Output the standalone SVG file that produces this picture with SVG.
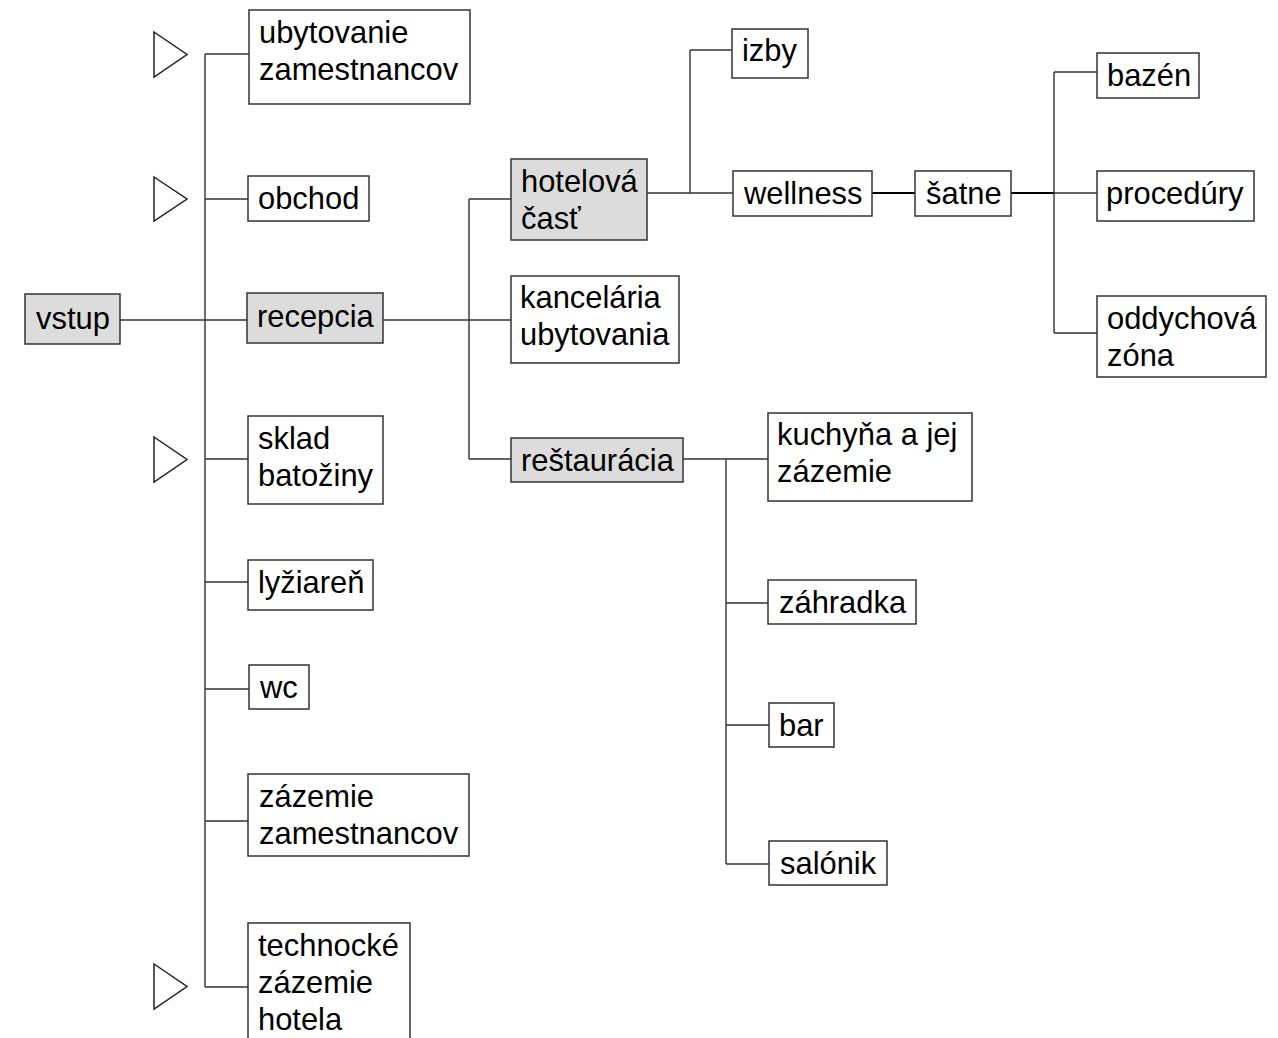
<svg xmlns="http://www.w3.org/2000/svg" width="1278" height="1038" viewBox="0 0 1278 1038">
<style>
.n{fill:#fff;stroke:#333;stroke-width:1.5}
.g{fill:#dcdcdc;stroke:#333;stroke-width:1.5}
.t{font-family:"Liberation Sans",Arial,sans-serif;font-size:30.9px;fill:#000}
.c{fill:none;stroke:#333;stroke-width:1.4}
.b{fill:none;stroke:#000;stroke-width:2.2}
.tri{fill:#fff;stroke:#222;stroke-width:1.5}
</style>
<rect width="1278" height="1038" fill="#fff"/>
<g id="connectors">
<path class="c" d="M120 320H247M205 54V987M205 54H249M205 199H248M205 459H248M205 582H248M205 689H249M205 821H248M205 987H248"/>
<path class="c" d="M383 320H511M469 199V459M469 199H511M469 459H511"/>
<path class="c" d="M647 193H733M690 50V193M690 50H732"/>
<path class="b" d="M872 193H915M1011 193H1055"/>
<path class="c" d="M1054 72V333M1054 72H1097M1054 193H1097M1054 333H1097"/>
<path class="c" d="M683 459H768M726 459V864M726 603H768M726 725H769M726 864H769"/>
</g>
<g id="markers">
<polygon class="tri" points="154,32 187,54.5 154,77"/>
<polygon class="tri" points="154,177 187,199 154,221"/>
<polygon class="tri" points="154,437 187,459.5 154,482"/>
<polygon class="tri" points="154,964 187,986.5 154,1009"/>
</g>
<g id="vstup"><rect class="g" x="25" y="294" width="95" height="50"/><text class="t" x="36" y="329">vstup</text></g>
<g id="ubytovanie"><rect class="n" x="249" y="10" width="221" height="94"/><text class="t" x="259" y="43">ubytovanie</text><text class="t" x="259" y="80">zamestnancov</text></g>
<g id="obchod"><rect class="n" x="248" y="176" width="121" height="45"/><text class="t" x="258" y="209">obchod</text></g>
<g id="recepcia"><rect class="g" x="247" y="293" width="136" height="50"/><text class="t" x="257" y="327">recepcia</text></g>
<g id="sklad"><rect class="n" x="248" y="416" width="135" height="88"/><text class="t" x="258" y="449">sklad</text><text class="t" x="258" y="486">batožiny</text></g>
<g id="lyziaren"><rect class="n" x="248" y="560" width="125" height="50"/><text class="t" x="258" y="593">lyžiareň</text></g>
<g id="wc"><rect class="n" x="249" y="665" width="60" height="44"/><text class="t" x="260" y="698">wc</text></g>
<g id="zazemie-zam"><rect class="n" x="248" y="774" width="221" height="82"/><text class="t" x="259" y="807">zázemie</text><text class="t" x="259" y="844">zamestnancov</text></g>
<g id="technicke"><rect class="n" x="248" y="923" width="162" height="130"/><text class="t" x="258" y="956">technocké</text><text class="t" x="258" y="993">zázemie</text><text class="t" x="258" y="1030">hotela</text></g>
<g id="hotelova"><rect class="g" x="511" y="159" width="136" height="81"/><text class="t" x="521" y="192">hotelová</text><text class="t" x="521" y="229">časť</text></g>
<g id="kancelaria"><rect class="n" x="511" y="276" width="168" height="87"/><text class="t" x="520" y="308">kancelária</text><text class="t" x="520" y="345">ubytovania</text></g>
<g id="restauracia"><rect class="g" x="511" y="438" width="172" height="44"/><text class="t" x="521" y="471">reštaurácia</text></g>
<g id="izby"><rect class="n" x="732" y="29" width="76" height="49"/><text class="t" x="742" y="61">izby</text></g>
<g id="wellness"><rect class="n" x="733" y="171" width="139" height="45"/><text class="t" x="744" y="204">wellness</text></g>
<g id="satne"><rect class="n" x="915" y="171" width="96" height="45"/><text class="t" x="926" y="204">šatne</text></g>
<g id="bazen"><rect class="n" x="1097" y="53" width="102" height="45"/><text class="t" x="1107" y="86">bazén</text></g>
<g id="procedury"><rect class="n" x="1097" y="171" width="157" height="50"/><text class="t" x="1106" y="204">procedúry</text></g>
<g id="oddychova"><rect class="n" x="1097" y="296" width="169" height="81"/><text class="t" x="1107" y="329">oddychová</text><text class="t" x="1107" y="366">zóna</text></g>
<g id="kuchyna"><rect class="n" x="768" y="413" width="204" height="88"/><text class="t" x="777" y="445">kuchyňa a jej</text><text class="t" x="777" y="482">zázemie</text></g>
<g id="zahradka"><rect class="n" x="768" y="580" width="148" height="44"/><text class="t" x="779" y="613">záhradka</text></g>
<g id="bar"><rect class="n" x="769" y="703" width="65" height="44"/><text class="t" x="779" y="736">bar</text></g>
<g id="salonik"><rect class="n" x="769" y="841" width="118" height="44"/><text class="t" x="780" y="874">salónik</text></g>
</svg>
